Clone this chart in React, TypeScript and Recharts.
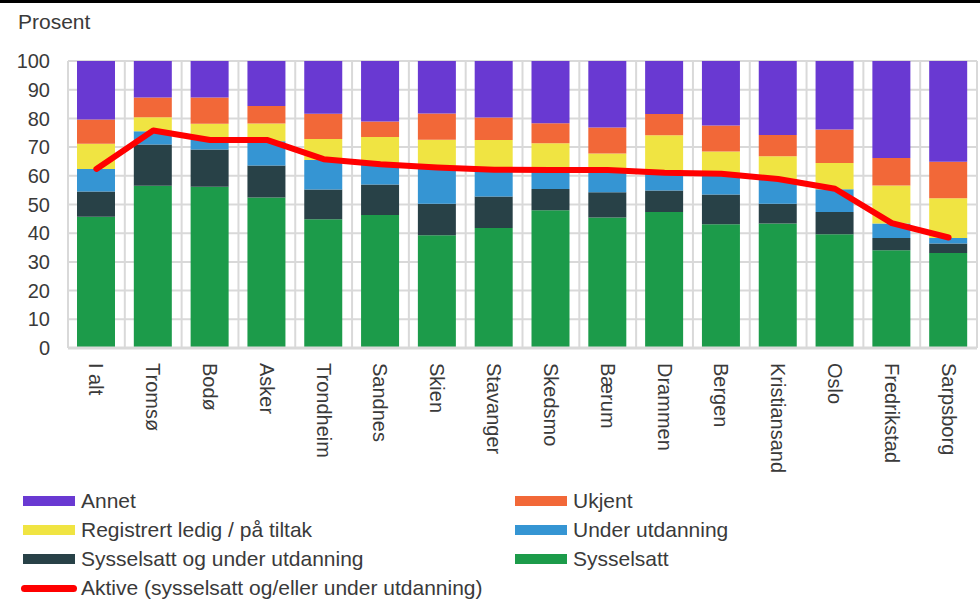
import React from 'react';
import { ComposedChart, Bar, Line, XAxis, YAxis, CartesianGrid } from 'recharts';

const categories = [
    'I alt', 'Tromsø', 'Bodø', 'Asker', 'Trondheim', 'Sandnes', 'Skien', 'Stavanger',
    'Skedsmo', 'Bærum', 'Drammen', 'Bergen', 'Kristiansand', 'Oslo', 'Fredrikstad', 'Sarpsborg',
];

const sysselsatt = [45.7, 56.5, 56.2, 52.4, 44.9, 46.3, 39.3, 41.8, 48.0, 45.5, 47.4, 43.1, 43.4, 39.6, 34.1, 33.1];
const sysselsattOgUtdanning = [8.8, 14.4, 13.0, 11.2, 10.3, 10.7, 11.0, 11.0, 7.4, 8.8, 7.5, 10.4, 6.9, 7.8, 4.2, 3.3];
const underUtdanning = [7.9, 4.6, 3.3, 8.4, 10.3, 7.0, 12.4, 9.2, 6.4, 7.5, 6.1, 7.2, 8.6, 7.9, 5.1, 1.9];
const registrert = [8.8, 4.9, 5.6, 6.2, 7.3, 9.5, 9.9, 10.5, 9.5, 6.0, 13.1, 7.8, 7.9, 9.2, 13.2, 13.9];
const ukjent = [8.4, 6.9, 9.2, 6.1, 8.8, 5.4, 9.1, 7.8, 7.0, 9.0, 7.4, 9.0, 7.4, 11.6, 9.6, 12.7];
const annet = [20.4, 12.7, 12.7, 15.7, 18.4, 21.1, 18.3, 19.7, 21.7, 23.2, 18.5, 22.5, 25.8, 23.9, 33.8, 35.1];
const aktive = [62.4, 75.8, 72.5, 72.5, 65.8, 64.0, 62.9, 62.1, 62.0, 62.0, 61.1, 60.7, 58.9, 55.5, 43.5, 38.5];

const yTicks = [0, 10, 20, 30, 40, 50, 60, 70, 80, 90, 100];

// stacking order, bottom to top
const barSeries = [
    { key: 'sysselsatt', name: 'Sysselsatt', color: '#1c9b4a' },
    { key: 'sysUtd', name: 'Sysselsatt og under utdanning', color: '#284147' },
    { key: 'underUtd', name: 'Under utdanning', color: '#3595d3' },
    { key: 'registrert', name: 'Registrert ledig / på tiltak', color: '#f0e442' },
    { key: 'ukjent', name: 'Ukjent', color: '#f26838' },
    { key: 'annet', name: 'Annet', color: '#6939d2' },
];

const data = categories.map((name, i) => ({
    name,
    sysselsatt: sysselsatt[i],
    sysUtd: sysselsattOgUtdanning[i],
    underUtd: underUtdanning[i],
    registrert: registrert[i],
    ukjent: ukjent[i],
    annet: annet[i],
    aktive: aktive[i],
}));

const FONT = '"Liberation Sans", Arial, sans-serif';
const TEXT = '#3a3a3a';
const GRID = '#d9d9d9';

const RotatedTick = (props: any) => {
    const { x, y, payload } = props;
    return (
        <text
            transform={`translate(${x},${y + 7}) rotate(90)`}
            textAnchor="start"
            dominantBaseline="central"
            fontSize={20}
            fontFamily={FONT}
            fill={TEXT}
        >
            {payload.value}
        </text>
    );
};

// legend rows as laid out in the picture (two columns)
const legendRows = [
    ['annet', 'ukjent'],
    ['registrert', 'underUtd'],
    ['sysUtd', 'sysselsatt'],
];

const App: React.FC = () => {
    const n = categories.length;
    return (
        <div style={{ position: 'absolute', left: 0, top: 0, width: 980, height: 600, background: '#fff', fontFamily: FONT }}>
            <div style={{ position: 'absolute', left: 0, top: 0, width: 980, height: 3, background: '#000' }} />
            <div style={{ position: 'absolute', left: 18, top: 10, fontSize: 21, color: TEXT }}>Prosent</div>

            <ComposedChart
                width={980}
                height={476}
                data={data}
                margin={{ top: 61, right: 3, bottom: 0, left: 0 }}
                barSize={38}
            >
                <CartesianGrid
                    stroke={GRID}
                    strokeWidth={2}
                    verticalCoordinatesGenerator={({ offset }: any) => {
                        const left = offset?.left ?? 68;
                        const w = offset?.width ?? 909;
                        return Array.from({ length: n + 1 }, (_, i) => left + (i * w) / n);
                    }}
                />
                <XAxis
                    dataKey="name"
                    interval={0}
                    height={128}
                    tickLine={false}
                    axisLine={{ stroke: GRID, strokeWidth: 3 }}
                    tick={<RotatedTick />}
                />
                <YAxis
                    width={68}
                    domain={[0, 100]}
                    ticks={yTicks}
                    tickLine={false}
                    axisLine={false}
                    tickSize={0}
                    tickMargin={18}
                    tick={{ fontSize: 20, fontFamily: FONT, fill: TEXT }}
                />
                {barSeries.map((s) => (
                    <Bar key={s.key} dataKey={s.key} name={s.name} stackId="a" fill={s.color} isAnimationActive={false} />
                ))}
                <Line
                    dataKey="aktive"
                    name="Aktive (sysselsatt og/eller under utdanning)"
                    stroke="#ff0000"
                    strokeWidth={6}
                    strokeLinejoin="round"
                    strokeLinecap="round"
                    dot={false}
                    activeDot={false}
                    type="linear"
                    isAnimationActive={false}
                />
            </ComposedChart>

            {/* Legend */}
            {legendRows.map((row, r) =>
                row.map((key, c) => {
                    const s = barSeries.find((b) => b.key === key)!;
                    const left = c === 0 ? 23 : 515;
                    const top = 501 + r * 29;
                    return (
                        <div key={key} style={{ position: 'absolute', left, top: top - 12, height: 24, display: 'flex', alignItems: 'center' }}>
                            <div style={{ width: 52, height: 10, background: s.color }} />
                            <span style={{ marginLeft: 6, fontSize: 21, color: TEXT, whiteSpace: 'nowrap' }}>{s.name}</span>
                        </div>
                    );
                })
            )}
            <div style={{ position: 'absolute', left: 21, top: 588 - 12, height: 24, display: 'flex', alignItems: 'center' }}>
                <div style={{ width: 56, height: 7, borderRadius: 4, background: '#ff0000' }} />
                <span style={{ marginLeft: 4, fontSize: 21, color: TEXT, whiteSpace: 'nowrap' }}>Aktive (sysselsatt og/eller under utdanning)</span>
            </div>
        </div>
    );
};

export default App;
